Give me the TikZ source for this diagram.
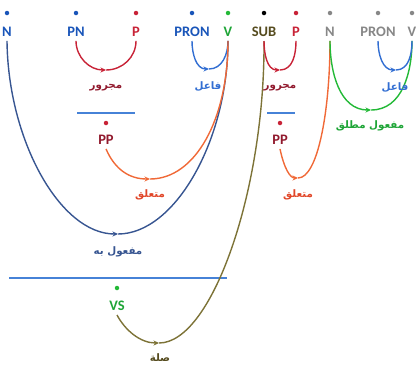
\documentclass[tikz,border=0pt]{standalone}
\usepackage{fontspec}
\setmainfont{Carlito}
\newfontfamily\arabicfont[Script=Arabic]{DejaVu Sans}
\TeXXeTstate=1
\usetikzlibrary{arrows.meta}
\definecolor{wblue}{RGB}{25,85,185}
\definecolor{ablue}{RGB}{50,110,210}
\definecolor{dblue}{RGB}{55,85,145}
\definecolor{lblue}{RGB}{70,130,215}
\definecolor{ared}{RGB}{200,35,55}
\definecolor{dred}{RGB}{145,25,45}
\definecolor{aorange}{RGB}{240,105,55}
\definecolor{lorange}{RGB}{225,70,40}
\definecolor{agreen}{RGB}{35,185,55}
\definecolor{tgreen}{RGB}{30,165,55}
\definecolor{olive}{RGB}{125,115,55}
\definecolor{dolive}{RGB}{85,75,30}
\definecolor{agray}{RGB}{135,135,135}
\begin{document}
\begin{tikzpicture}[x=1pt,y=-1pt,
  word/.style={font=\bfseries\fontsize{14.5}{15}\selectfont, inner sep=4pt},
  pnt/.style={circle,inner sep=0pt,minimum size=4.5pt},
  arlab/.style={font=\arabicfont\bfseries\fontsize{10.3}{12}\selectfont, inner sep=1pt},
  arc/.style={line width=1.4pt},
  tip/.style={-{Stealth[length=5.5pt,width=5pt]}},
  bar/.style={line width=2.2pt, lblue}]
\useasboundingbox (0,0) rectangle (417,365);
% top words
\node[pnt,fill=wblue] (d1) at (7,13) {};    \node[word,text=wblue] (w1) at (7,32) {N};
\node[pnt,fill=wblue] (d2) at (76,13) {};   \node[word,text=wblue] (w2) at (76,32) {PN};
\node[pnt,fill=ared] (d3) at (136,13) {};   \node[word,text=ared] (w3) at (136,32) {P};
\node[pnt,fill=wblue] (d4) at (192,13) {};  \node[word,text=wblue] (w4) at (192,32) {PRON};
\node[pnt,fill=agreen] (d5) at (228,13) {}; \node[word,text=tgreen] (w5) at (228,32) {V};
\node[pnt,fill=black] (d6) at (264,13) {};  \node[word,text=dolive] (w6) at (264,32) {SUB};
\node[pnt,fill=ared] (d7) at (296,13) {};   \node[word,text=ared] (w7) at (296,32) {P};
\node[pnt,fill=agray] (d8) at (330,13) {};  \node[word,text=agray] (w8) at (330,32) {N};
\node[pnt,fill=agray] (d9) at (378,13) {};  \node[word,text=agray] (w9) at (378,32) {PRON};
\node[pnt,fill=agray] (d10) at (412,13) {}; \node[word,text=agray] (w10) at (412,32) {V};
% left PP
\draw[bar] (77,113) -- (135,113);
\node[pnt,fill=ared] (d11) at (106,123) {};
\node[word,text=dred] (pp1) at (106,140) {PP};
% right PP
\draw[bar] (267,113) -- (295,113);
\node[pnt,fill=ared] (d12) at (280,123) {};
\node[word,text=dred] (pp2) at (280,140) {PP};
% VS
\draw[bar] (9,278) -- (227,278);
\node[pnt,fill=agreen] (d13) at (117,288) {};
\node[word,text=tgreen] (vs) at (117,306) {VS};
% bottoms
\coordinate (b1) at (106,70);
\coordinate (b2) at (209,69);
\coordinate (b3) at (150,179);
\coordinate (b4) at (118,234);
\coordinate (b5) at (159,343);
\coordinate (b6) at (280,70);
\coordinate (b7) at (298,178);
\coordinate (b8) at (371,110);
\coordinate (b9) at (396,70);
% PN - P
\draw[arc,ared,tip] (w2.south) to[out=-90,in=180] (b1);
\draw[arc,ared] (b1) to[out=0,in=-90] (w3.south);
\node[arlab,text=dred] (l1) at (106,88) {\beginR مجرور\endR};
% PRON - V
\draw[arc,ablue,tip] (w4.south) to[out=-90,in=180] (b2);
\draw[arc,ablue] (b2) to[out=0,in=-90] (w5.south);
\node[arlab,text=ablue] (l2) at (208,87) {\beginR فاعل\endR};
% N - V
\draw[arc,dblue,tip] (w1.south) .. controls (8,140) and (60,234) .. (b4);
\draw[arc,dblue] (b4) .. controls (175,234) and (228,140) .. (w5.south);
\node[arlab,text=dblue] (l4) at (118,252) {\beginR مفعول به\endR};
% PP - V
\draw[arc,aorange,tip] (pp1.south) .. controls (115,170) and (130,179) .. (b3);
\draw[arc,aorange] (b3) .. controls (195,179) and (228,120) .. (w5.south);
\node[arlab,text=lorange] (l3) at (150,195) {\beginR متعلق\endR};
% VS - SUB
\draw[arc,olive,tip] (vs.south) .. controls (125,330) and (140,343) .. (b5);
\draw[arc,olive] (b5) .. controls (212,343) and (265,190) .. (w6.south);
\node[arlab,text=dolive] (l5) at (160,358) {\beginR صلة\endR};
% SUB - P
\draw[arc,ared,tip] (w6.south) to[out=-90,in=180] (b6);
\draw[arc,ared] (b6) to[out=0,in=-90] (w7.south);
\node[arlab,text=dred] (l6) at (280,88) {\beginR مجرور\endR};
% PP - N
\draw[arc,aorange,tip] (pp2.south) .. controls (284,168) and (290,178) .. (b7);
\draw[arc,aorange] (b7) .. controls (318,178) and (330,110) .. (w8.south);
\node[arlab,text=lorange] (l7) at (298,195) {\beginR متعلق\endR};
% N - V green
\draw[arc,agreen,tip] (w8.south) to[out=-90,in=180] (b8);
\draw[arc,agreen] (b8) to[out=0,in=-90] (w10.south);
\node[arlab,text=tgreen] (l8) at (370,126) {\beginR مفعول مطلق\endR};
% PRON - V right
\draw[arc,ablue,tip] (w9.south) to[out=-90,in=180] (b9);
\draw[arc,ablue] (b9) to[out=0,in=-90] (w10.south);
\node[arlab,text=ablue] (l9) at (395,88) {\beginR فاعل\endR};
\end{tikzpicture}
\end{document}
